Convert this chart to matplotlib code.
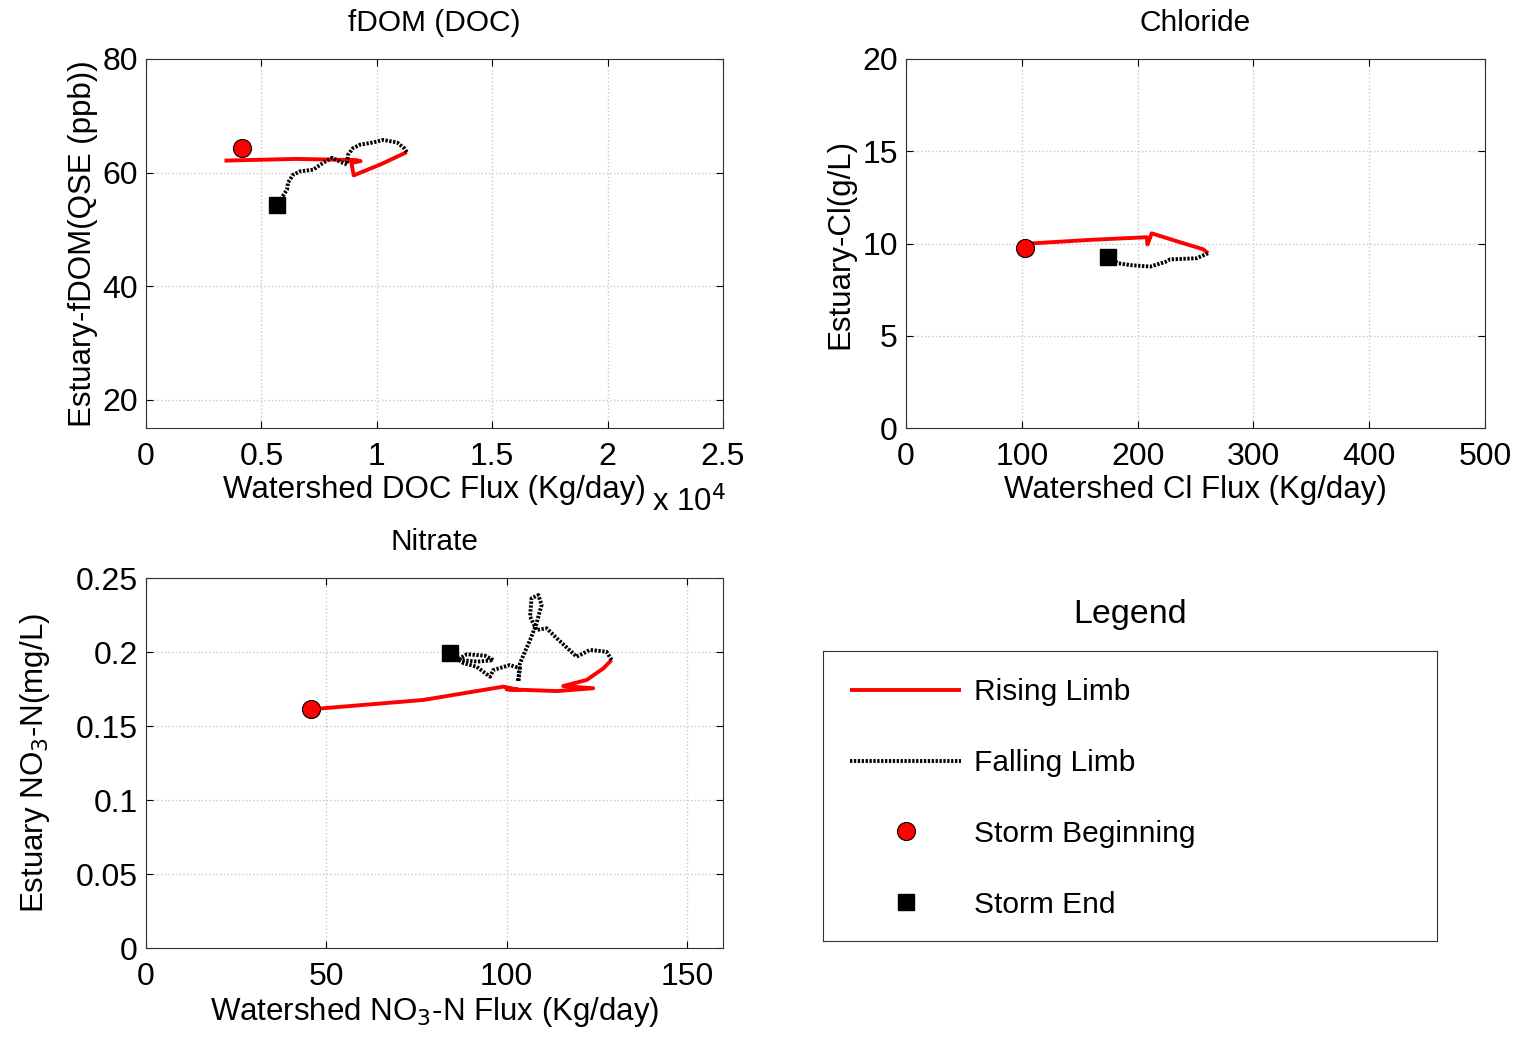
import matplotlib
matplotlib.use("Agg")
import matplotlib.pyplot as plt
from matplotlib.lines import Line2D
from matplotlib.ticker import FuncFormatter

plt.rcParams['font.family'] = ['Liberation Sans', 'DejaVu Sans']

# ---------------- data ----------------
# fDOM (DOC)
doc_rise_x = [3400, 6500, 9100, 9300, 8900, 9000, 10200, 11300]
doc_rise_y = [62.1, 62.4, 62.2, 62.0, 61.7, 59.5, 61.5, 63.6]
doc_fall_x = [11300, 11180, 10880, 10270, 9840, 9270, 8970, 8750, 8710, 8410, 8060, 7670, 7240, 6670, 6370, 6150, 6110, 5680]
doc_fall_y = [63.6, 64.3, 65.3, 65.75, 65.3, 64.9, 64.3, 63.1, 61.4, 61.9, 62.6, 61.7, 60.5, 60.2, 59.6, 58.2, 57.0, 54.3]
doc_start = (4160, 64.3)
doc_end = (5680, 54.3)

# Chloride
cl_rise_x = [102.8, 109.7, 160.0, 207.9, 208.5, 212.2, 235.0, 256.5, 260.8]
cl_rise_y = [9.9, 10.01, 10.2, 10.34, 9.95, 10.55, 10.1, 9.69, 9.47]
cl_fall_x = [260.8, 251.0, 228.0, 223.8, 210.9, 193.4, 183.0, 178.8, 174.5]
cl_fall_y = [9.47, 9.2, 9.14, 9.0, 8.75, 8.83, 8.93, 9.1, 9.25]
cl_start = (102.8, 9.76)
cl_end = (174.5, 9.25)

# Nitrate
no3_rise_x = [45.7, 49.2, 76.9, 99.1, 103.7, 100.0, 113.9, 124.0, 115.7, 122.2, 126.8, 129.1]
no3_rise_y = [0.1615, 0.162, 0.1676, 0.1766, 0.1743, 0.1748, 0.1736, 0.1755, 0.177, 0.1811, 0.1889, 0.1946]
no3_fall_x = [129.1, 127.7, 123.1, 119.4, 113.9, 111.1, 108.3, 106.5, 106.9, 108.8, 109.7, 108.3,
              106.5, 103.7, 103.2, 103.7, 100.9, 96.3, 95.4, 91.7, 88.0, 86.5, 89.0, 94.0, 96.3,
              92.0, 87.5, 84.3]
no3_fall_y = [0.1946, 0.2002, 0.2014, 0.1968, 0.2093, 0.216, 0.2149, 0.2239, 0.2363, 0.2385, 0.2318, 0.2194,
              0.2081, 0.1924, 0.18, 0.189, 0.1912, 0.1878, 0.1833, 0.19, 0.1925, 0.195, 0.1985, 0.1975, 0.1945,
              0.1935, 0.1945, 0.1991]
no3_start = (45.7, 0.1615)
no3_end = (84.3, 0.1991)

legend_labels = ['Rising Limb', 'Falling Limb', 'Storm Beginning', 'Storm End']

# ---------------- styling ----------------
FS_TICK = 23
FS_LAB = 22.5
FS_TITLE = 21.5
FS_LEG = 21.5
FS_LEGT = 24.5
red_kw = dict(color='#ff0000', lw=2.8, solid_capstyle='butt')
blk_kw = dict(color='black', lw=2.8, ls=(0, (0.6, 0.4)))
start_kw = dict(marker='o', ms=13, mfc='#ff0000', mec='black', mew=0.8, ls='none', zorder=5)
end_kw = dict(marker='s', ms=11, mfc='black', mec='black', ls='none', zorder=5)

fig = plt.figure(figsize=(15.2, 10.37), dpi=100)


def style(ax):
    ax.grid(True, ls=':', color='#c8c8c8', lw=1.0)
    ax.set_axisbelow(True)
    ax.tick_params(direction='in', labelsize=FS_TICK, length=5, top=True, right=True)
    ax.tick_params(axis='x', pad=10)
    ax.tick_params(axis='y', pad=6)
    for s in ax.spines.values():
        s.set_linewidth(0.8)
        s.set_color('#333333')


# fDOM
ax1 = fig.add_axes([146/1520, 1-428/1037, (723-146)/1520, (428-59)/1037])
ax1.plot(doc_rise_x, doc_rise_y, **red_kw)
ax1.plot(doc_fall_x, doc_fall_y, **blk_kw)
ax1.plot(*doc_start, **start_kw)
ax1.plot(*doc_end, **end_kw)
ax1.set_xlim(0, 25000)
ax1.set_ylim(15, 80)
ax1.set_xticks([0, 5000, 10000, 15000, 20000, 25000])
ax1.xaxis.set_major_formatter(FuncFormatter(lambda v, p: f"{v/1e4:g}"))
ax1.set_yticks([20, 40, 60, 80])
ax1.set_title('fDOM (DOC)', fontsize=FS_TITLE, pad=20)
ax1.set_xlabel('Watershed DOC Flux (Kg/day)', fontsize=FS_LAB, labelpad=2)
ax1.set_ylabel('Estuary-fDOM(QSE (ppb))', fontsize=FS_LAB, labelpad=3)
ax1.text(0.877, -0.2, r'x 10$^{4}$', transform=ax1.transAxes, ha='left', va='center', fontsize=FS_LAB)
style(ax1)

# Chloride
ax2 = fig.add_axes([906/1520, 1-428/1037, (1485-906)/1520, (428-59)/1037])
ax2.plot(cl_rise_x, cl_rise_y, **red_kw)
ax2.plot(cl_fall_x, cl_fall_y, **blk_kw)
ax2.plot(*cl_start, **start_kw)
ax2.plot(*cl_end, **end_kw)
ax2.set_xlim(0, 500)
ax2.set_ylim(0, 20)
ax2.set_xticks([0, 100, 200, 300, 400, 500])
ax2.set_yticks([0, 5, 10, 15, 20])
ax2.set_title('Chloride', fontsize=FS_TITLE, pad=20)
ax2.set_xlabel('Watershed Cl Flux (Kg/day)', fontsize=FS_LAB, labelpad=2)
ax2.set_ylabel('Estuary-Cl(g/L)', fontsize=FS_LAB, labelpad=5)
style(ax2)

# Nitrate
ax3 = fig.add_axes([146/1520, 1-948/1037, (723-146)/1520, (948-578)/1037])
ax3.plot(no3_rise_x, no3_rise_y, **red_kw)
ax3.plot(no3_fall_x, no3_fall_y, **blk_kw)
ax3.plot(*no3_start, **start_kw)
ax3.plot(*no3_end, **end_kw)
ax3.set_xlim(0, 160)
ax3.set_ylim(0, 0.25)
ax3.set_xticks([0, 50, 100, 150])
ax3.set_yticks([0, 0.05, 0.1, 0.15, 0.2, 0.25])
ax3.yaxis.set_major_formatter(FuncFormatter(lambda v, p: f"{v:g}"))
ax3.set_title('Nitrate', fontsize=FS_TITLE, pad=20)
ax3.set_xlabel(r'Watershed NO$_3$-N Flux (Kg/day)', fontsize=FS_LAB, labelpad=2)
ax3.set_ylabel(r'Estuary NO$_3$-N(mg/L)', fontsize=FS_LAB, labelpad=17)
style(ax3)

# Legend box
axl = fig.add_axes([823/1520, 1-941/1037, (1437-823)/1520, (941-651)/1037])
axl.set_xticks([])
axl.set_yticks([])
for s in axl.spines.values():
    s.set_linewidth(0.8)
    s.set_color('#333333')
axl.set_title('Legend', fontsize=FS_LEGT, pad=20)
handles = [
    Line2D([], [], **red_kw),
    Line2D([], [], **blk_kw),
    Line2D([], [], **start_kw),
    Line2D([], [], **end_kw),
]
axl.legend(handles, legend_labels, loc='upper left', frameon=False, fontsize=FS_LEG,
           handlelength=3.7, handletextpad=0.42, labelspacing=1.43,
           borderaxespad=0.3, borderpad=0.62)

fig.savefig('out.png', dpi=100)
